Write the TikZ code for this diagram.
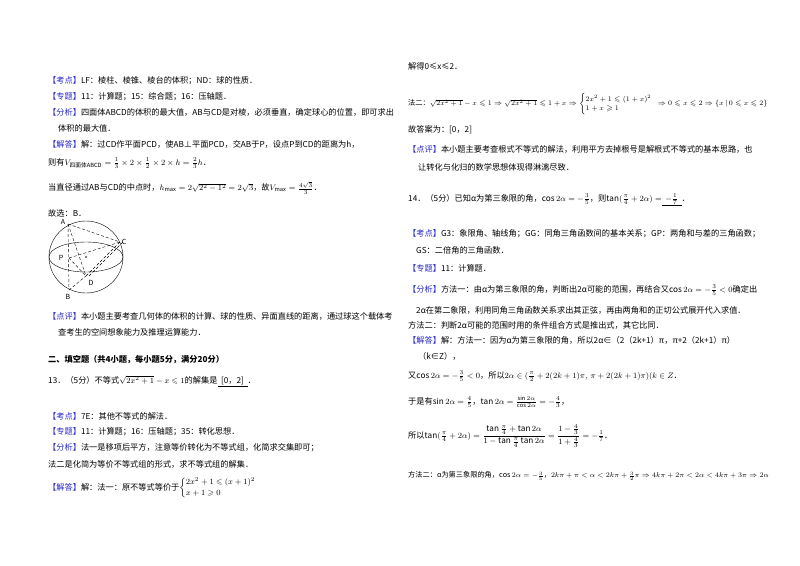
\documentclass[tikz,border=0pt]{standalone}
\usepackage{amsmath,amssymb}
\usepackage{fontspec}
\setmainfont{Noto Sans CJK SC}
\definecolor{lb}{RGB}{40,40,200}
\newcommand{\lab}[1]{{\color{lb}【#1】}}
\tikzset{tl/.style={anchor=west,inner sep=0pt,font=\fontsize{8.2}{9}\selectfont},
 tm/.style={tl,font=\fontsize{7.2}{8}\selectfont},
 pt/.style={font=\fontsize{7}{8}\selectfont\itshape,inner sep=1pt}}
\begin{document}
\begin{tikzpicture}[x=1pt,y=-1pt]
\useasboundingbox (0,0) rectangle (800,565);
\fill[white] (0,0) rectangle (800,565);
% left column
\node[tl] (l1) at (48,81) {\lab{考点}LF：棱柱、棱锥、棱台的体积；ND：球的性质．};
\node[tl] (l2) at (48,97) {\lab{专题}11：计算题；15：综合题；16：压轴题．};
\node[tl] (l3) at (48,112) {\lab{分析}四面体ABCD的体积的最大值，AB与CD是对棱，必须垂直，确定球心的位置，即可求出};
\node[tl] (l4) at (58,128) {体积的最大值．};
\node[tl] (l5) at (48,144) {\lab{解答}解：过CD作平面PCD，使AB⊥平面PCD，交AB于P，设点P到CD的距离为h，};
\node[tl] (l6) at (48,163) {则有$V_{\text{四面体ABCD}}=\frac13\times2\times\frac12\times2\times h=\frac23h$．};
\node[tl] (l7) at (48,188) {当直径通过AB与CD的中点时，$h_{\max}=2\sqrt{2^2-1^2}=2\sqrt3$，故$V_{\max}=\frac{4\sqrt3}{3}$．};
\node[tl] (l8) at (48,213) {故选：B．};
% sphere figure
\draw (86,257) circle[x radius=37,y radius=36];
\draw (86,257) ellipse[x radius=37,y radius=15];
\coordinate (A) at (68,224);
\coordinate (B) at (69,290);
\coordinate (C) at (120,242);
\coordinate (D) at (86,276);
\coordinate (P) at (69,258);
\draw[densely dashed] (A) -- (B);
\draw[densely dashed] (A) -- (C);
\draw[densely dashed] (P) -- (C) (P) -- (D) (B) -- (D);
\draw[densely dashed] (C) -- (D) ([xshift=3pt]C) -- ([xshift=3pt]D);
\draw[densely dashed] (A) -- (D);
\fill (86,257) circle[radius=0.8];
\node[pt] (nA) at (63,222) {A};
\node[pt] (nB) at (68,297) {B};
\node[pt] (nC) at (124,242) {C};
\node[pt] (nD) at (91,283) {D};
\node[pt] (nP) at (61,258) {P};
\node[tl] (l9) at (48,316) {\lab{点评}本小题主要考查几何体的体积的计算、球的性质、异面直线的距离，通过球这个载体考};
\node[tl] (l10) at (58,332) {查考生的空间想象能力及推理运算能力．};
\node[tl,font=\fontsize{8.2}{9}\selectfont\bfseries] (l11) at (48,360) {二、填空题（共4小题，每小题5分，满分20分）};
\node[tl] (l12) at (48,381) {13．（5分）不等式$\sqrt{2x^2+1}-x\leqslant1$的解集是\underline{\ \ [0，2]\ \ }．};
\node[tl] (l13) at (48,416) {\lab{考点}7E：其他不等式的解法．};
\node[tl] (l14) at (48,432) {\lab{专题}11：计算题；16：压轴题；35：转化思想．};
\node[tl] (l15) at (48,448) {\lab{分析}法一是移项后平方，注意等价转化为不等式组，化简求交集即可；};
\node[tl] (l16) at (48,464) {法二是化简为等价不等式组的形式，求不等式组的解集．};
\node[tl] (l17) at (48,488) {\lab{解答}解：法一：原不等式等价于$\begin{cases}2x^2+1\leqslant(x+1)^2\\ x+1\geqslant0\end{cases}$};
% right column
\node[tl] (r1) at (408,66) {解得0≤x≤2．};
\node[tm] (r2) at (408,104) {法二：$\sqrt{2x^2+1}-x\leqslant1\Rightarrow\sqrt{2x^2+1}\leqslant1+x\Rightarrow\begin{cases}2x^2+1\leqslant(1+x)^2\\ 1+x\geqslant1\end{cases}\!\!\!\Rightarrow0\leqslant x\leqslant2\Rightarrow\{x\,|\,0\leqslant x\leqslant2\}$};
\node[tl] (r3) at (408,130) {故答案为：[0，2]};
\node[tl] (r4) at (408,149) {\lab{点评}本小题主要考查根式不等式的解法，利用平方去掉根号是解根式不等式的基本思路，也};
\node[tl] (r5) at (418,167) {让转化与化归的数学思想体现得淋漓尽致．};
\node[tl] (r6) at (408,200) {14．（5分）已知α为第三象限的角，$\cos2\alpha=-\frac35$，则$\tan(\frac{\pi}{4}+2\alpha)=$\underline{\ \ $-\frac17$\ \ }．};
\node[tl] (r7) at (408,234) {\lab{考点}G3：象限角、轴线角；GG：同角三角函数间的基本关系；GP：两角和与差的三角函数；};
\node[tl] (r8) at (416,250) {GS：二倍角的三角函数．};
\node[tl] (r9) at (408,268) {\lab{专题}11：计算题．};
\node[tl] (r10) at (408,290) {\lab{分析}方法一：由α为第三象限的角，判断出2α可能的范围，再结合又$\cos2\alpha=-\frac35<0$确定出};
\node[tl] (r11) at (416,310) {2α在第二象限，利用同角三角函数关系求出其正弦，再由两角和的正切公式展开代入求值．};
\node[tl] (r12) at (408,325) {方法二：判断2α可能的范围时用的条件组合方式是推出式，其它比同．};
\node[tl] (r13) at (408,340) {\lab{解答}解：方法一：因为α为第三象限的角，所以2α∈（2（2k+1）π，π+2（2k+1）π）};
\node[tl] (r14) at (418,356) {（k∈Z），};
\node[tl] (r15) at (408,376) {又$\cos2\alpha=-\frac35<0$，所以$2\alpha\in(\frac{\pi}{2}+2(2k+1)\pi,\ \pi+2(2k+1)\pi)(k\in Z$．};
\node[tl] (r16) at (408,402) {于是有$\sin2\alpha=\frac45$，$\tan2\alpha=\frac{\sin2\alpha}{\cos2\alpha}=-\frac43$，};
\node[tl] (r17) at (408,436) {所以$\tan(\frac{\pi}{4}+2\alpha)=\dfrac{\tan\frac{\pi}{4}+\tan2\alpha}{1-\tan\frac{\pi}{4}\tan2\alpha}=\dfrac{1-\frac43}{1+\frac43}=-\frac17$．};
\node[tm] (r18) at (408,476) {方法二：α为第三象限的角，$\cos2\alpha=-\frac35$，$2k\pi+\pi<\alpha<2k\pi+\frac32\pi\Rightarrow4k\pi+2\pi<2\alpha<4k\pi+3\pi\Rightarrow2\alpha$};
\end{tikzpicture}
\end{document}
